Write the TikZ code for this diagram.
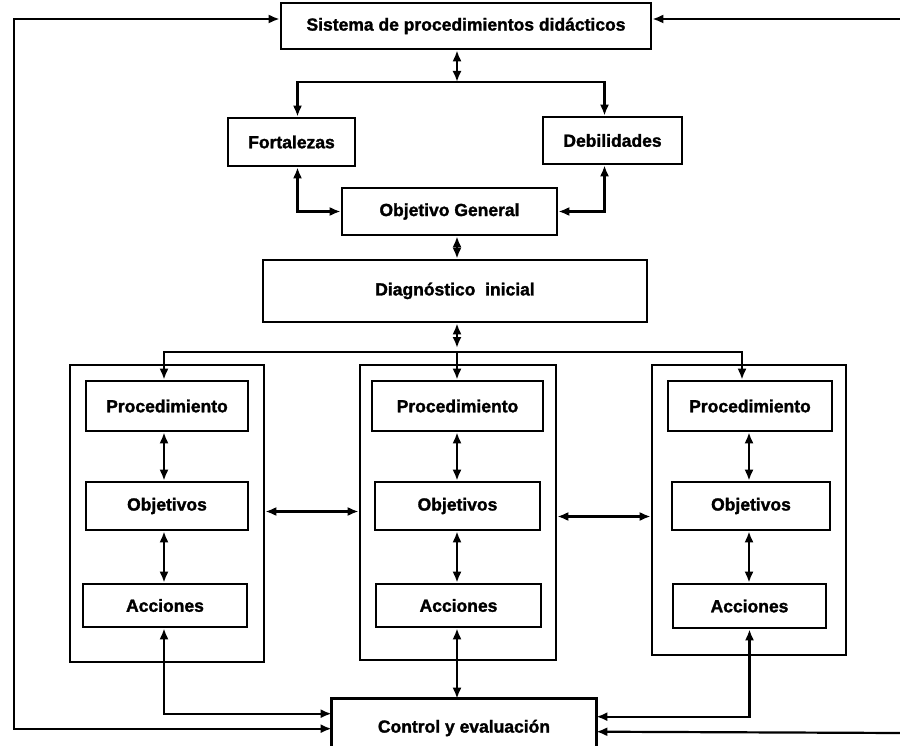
\documentclass[tikz,border=0pt]{standalone}
\usepackage{fontspec}
\setmainfont{Liberation Sans}[BoldFeatures={FakeBold=1.6}]
\usetikzlibrary{arrows.meta,calc}
\begin{document}
\begin{tikzpicture}[x=1pt,y=-1pt,
  box/.style={draw=black,line width=2.6pt,fill=white,inner sep=0pt,
    font=\fontsize{17.5}{20}\selectfont\bfseries,align=center},
  cont/.style={draw=black,line width=2.6pt,inner sep=0pt},
  conn/.style={line width=2.2pt,draw=black},
  >={Latex[length=11pt,width=9pt]}]
\useasboundingbox[fill=white] (0,0) rectangle (900,746);
% containers
\node[cont,minimum width=194,minimum height=297] (cl) at (167,513.5) {};
\node[cont,minimum width=196,minimum height=295] (cm) at (458,512.5) {};
\node[cont,minimum width=194,minimum height=290] (cr) at (749,510) {};
% top boxes
\node[box,minimum width=370,minimum height=46] (sis) at (466,26) {Sistema de procedimientos didácticos};
\node[box,minimum width=127,minimum height=48] (fort) at (291.5,142) {Fortalezas};
\node[box,minimum width=139,minimum height=47] (deb) at (612.5,140.5) {Debilidades};
\node[box,minimum width=215,minimum height=47] (og) at (449.5,211.5) {Objetivo General};
\node[box,minimum width=384,minimum height=62] (diag) at (455,291) {\raisebox{4pt}{Diagnóstico\ \ inicial}};
% procedures
\node[box,minimum width=162,minimum height=50] (pl) at (167,406) {Procedimiento};
\node[box,minimum width=171,minimum height=50] (pm) at (457.5,406) {Procedimiento};
\node[box,minimum width=164,minimum height=50] (pr) at (750,406) {Procedimiento};
\node[box,minimum width=162,minimum height=48] (ol) at (167,506) {Objetivos};
\node[box,minimum width=165,minimum height=48] (om) at (457.5,506) {Objetivos};
\node[box,minimum width=158,minimum height=48] (or) at (751,506) {Objetivos};
\node[box,minimum width=164,minimum height=43] (al) at (165,605.5) {Acciones};
\node[box,minimum width=165,minimum height=43] (am) at (458.5,605.5) {Acciones};
\node[box,minimum width=153,minimum height=44] (ar) at (749.5,606) {Acciones};
% control
\node[box,draw=none,fill=none,minimum width=262,minimum height=56] (ctrl) at (464,728) {Control y evaluación};
\draw[line width=2.6pt] ([yshift=-50pt]ctrl.north west) -- (ctrl.north west) -- (ctrl.north east) -- ([yshift=-50pt]ctrl.north east);
% coordinates
\coordinate (s1) at (457,82);
\coordinate (s2) at (457,352);
\coordinate (lc) at (14,400);
\coordinate (re1) at (900,19);
\coordinate (re2) at (900,733);
% connectors
\draw[conn,<->] (sis.south -| s1) -- (s1);
\draw[conn,->] (s1) -| ([xshift=6pt]fort.north);
\draw[conn,->] (s1) -| ([xshift=-8pt]deb.north);
\draw[conn,<->] ([xshift=6pt]fort.south) |- (og.west);
\draw[conn,<->] ([xshift=-8pt]deb.south) |- (og.east);
\draw[conn,<->] (og.south -| s1) -- (diag.north -| s1);
\draw[conn,<->] (diag.south -| s2) -- ([yshift=4pt]s2);
\draw[conn,->] (s2) -| ([xshift=-3pt]pl.north);
\draw[conn,->] (s2) -| ([xshift=-8pt]pr.north);
\draw[conn,->] (s2) -- (pm.north -| s2);
\draw[conn,<->] ([xshift=-3pt]pl.south) -- ([xshift=-3pt]ol.north);
\draw[conn,<->] (pm.south -| s2) -- (om.north -| s2);
\draw[conn,<->] ([xshift=-1pt]pr.south) -- ([xshift=-1pt]pr.south |- or.north);
\draw[conn,<->] ([xshift=-3pt]ol.south) -- ([xshift=-3pt]ol.south |- al.north);
\draw[conn,<->] (om.south -| s2) -- (am.north -| s2);
\draw[conn,<->] ([xshift=-1pt]pr.south |- or.south) -- ([xshift=-1pt]pr.south |- ar.north);
\draw[conn,<->] ([yshift=2pt]cl.east) -- ([yshift=2pt]cl.east -| cm.west);
\draw[conn,<->] ([yshift=-4pt]cm.east) -- ([yshift=-4pt]cm.east -| cr.west);
\draw[conn,<->] ([xshift=-1pt]al.south) |- ([yshift=-15pt]ctrl.north west);
\draw[conn,<->] (am.south -| s2) -- (ctrl.north -| s2);
\draw[conn,<->] (ar.south) |- ([yshift=-18pt]ctrl.north east);
\draw[conn,<->] ([yshift=7pt]sis.west) -| (lc) |- ([yshift=-30pt]ctrl.north west);
\draw[conn,->] (re1) -- ([yshift=7pt]sis.east);
\draw[conn,->] (re2) -- ([yshift=-33pt]ctrl.north east);
\end{tikzpicture}
\end{document}
